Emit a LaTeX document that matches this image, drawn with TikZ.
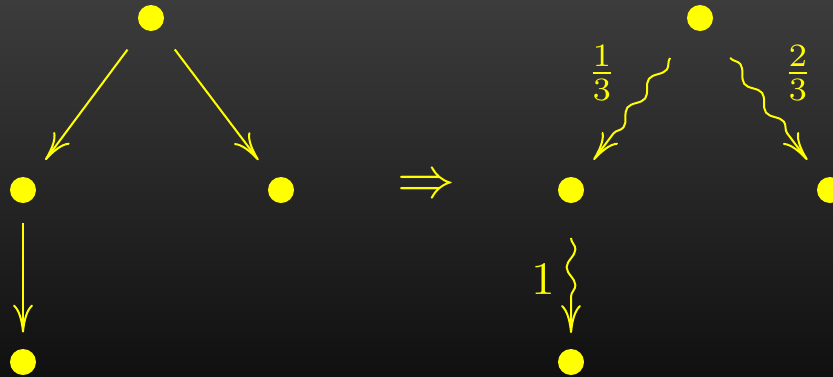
\documentclass[tikz,border=0pt]{standalone}
\usetikzlibrary{arrows.meta,decorations.pathmorphing,calc}
\definecolor{yel}{RGB}{255,255,0}
\definecolor{bgtop}{RGB}{60,60,60}
\definecolor{bgbot}{RGB}{16,16,16}
\begin{document}
\begin{tikzpicture}[x=0.5pt,y=-0.5pt,
  dot/.style={circle,fill=yel,inner sep=0pt,minimum size=13pt},
  edge/.style={draw=yel,line width=1pt,-{Computer Modern Rightarrow[length=14pt,width=10pt]}},
  wavy/.style={edge,decorate,decoration={snake,amplitude=2.2pt,segment length=18pt,post length=16pt}},
  lab/.style={text=yel,inner sep=0pt,scale=2.33,transform shape}]
\useasboundingbox (0,0) rectangle (833,376);
\shade[top color=bgtop,bottom color=bgbot] (0,0) rectangle (833,376);
% left graph
\node[dot] (a1) at (151,18) {};
\node[dot] (a2) at (23,190) {};
\node[dot] (a3) at (281,190) {};
\node[dot] (a4) at (23,362) {};
\draw[edge,shorten <=13pt,shorten >=12pt] (a1) -- (a2);
\draw[edge,shorten <=13pt,shorten >=12pt] (a1) -- (a3);
\draw[edge,shorten <=10pt,shorten >=8pt] (a2) -- (a4);
% implies
\node[text=yel,inner sep=0pt,scale=2.9,transform shape] (imp) at (426,187) {$\Rightarrow$};
% right graph
\node[dot] (b1) at (700,18) {};
\node[dot] (b2) at (571,190) {};
\node[dot] (b3) at (830,190) {};
\node[dot] (b4) at (571,362) {};
\draw[wavy] ($(b1)!25pt!(b2)$) -- ($(b2)!18.8pt!(b1)$);
\draw[wavy] ($(b1)!25pt!(b3)$) -- ($(b3)!18.8pt!(b1)$);
\draw[wavy] ($(b2)!24pt!(b4)$) -- ($(b4)!14.5pt!(b2)$);
\node[lab] (l1) at (602,73) {$\frac{1}{3}$};
\node[lab] (l2) at (798,73) {$\frac{2}{3}$};
\node[lab] (l3) at (543,279) {$1$};
\end{tikzpicture}
\end{document}
